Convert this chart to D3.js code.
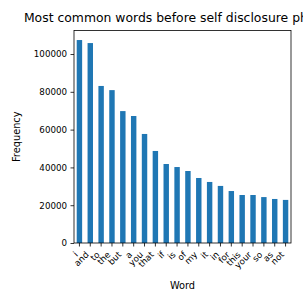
<!DOCTYPE html>
<html>
<head>
<meta charset="utf-8">
<script src="https://cdn.jsdelivr.net/npm/d3@7"></script>
<style>
  body { margin: 0; background: #fff; }
  svg { display: block; font-family: "DejaVu Sans", sans-serif; }
</style>
</head>
<body>
<div id="chart"></div>
<script>
const words = ['i', 'and', 'to', 'the', 'but', 'a', 'you', 'that', 'if', 'is',
  'of', 'my', 'it', 'in', 'for', 'this', 'your', 'so', 'as', 'not'];
const counts = [107400, 105800, 83100, 80900, 69800, 67200, 57700, 48700, 41800, 40200,
  38100, 34400, 32300, 30200, 27500, 25400, 25400, 24300, 23300, 22800];
const yTicks = [0, 20000, 40000, 60000, 80000, 100000];

const width = 303, height = 303;
const margin = { left: 74, right: 12, top: 30.5, bottom: 60 };
const plotW = width - margin.left - margin.right;
const plotH = height - margin.top - margin.bottom;

const svg = d3.select('#chart').append('svg')
  .attr('width', width).attr('height', height);

const g = svg.append('g')
  .attr('transform', 'translate(' + margin.left + ',' + margin.top + ')');

const x = d3.scaleBand().domain(words).range([0, plotW])
  .paddingInner(0.5).paddingOuter(0.25);
const y = d3.scaleLinear().domain([0, d3.max(counts) * 1.047]).range([plotH, 0]);

g.selectAll('rect.bar')
  .data(words)
  .enter()
  .append('rect')
  .attr('class', 'bar')
  .attr('x', d => x(d))
  .attr('width', x.bandwidth())
  .attr('y', (d, i) => y(counts[i]))
  .attr('height', (d, i) => plotH - y(counts[i]))
  .attr('fill', '#1f77b4');

// y axis
const yAxis = g.append('g')
  .call(d3.axisLeft(y).tickValues(yTicks).tickSize(3.5).tickPadding(3.5).tickFormat(d3.format('d')));
yAxis.select('.domain').remove();
yAxis.selectAll('text').attr('font-size', '8.7px').attr('fill', '#000')
  .attr('font-family', '"DejaVu Sans", sans-serif');
yAxis.selectAll('line').attr('stroke', '#000').attr('stroke-width', 0.8);

// x axis ticks
const xAxis = g.append('g')
  .attr('transform', 'translate(0,' + plotH + ')')
  .call(d3.axisBottom(x).tickSize(3.5).tickFormat(''));
xAxis.select('.domain').remove();
xAxis.selectAll('line').attr('stroke', '#000').attr('stroke-width', 0.8);

// rotated x tick labels, matplotlib rotation=45, ha='right': bbox top-right at the tick
const labels = g.append('g').attr('class', 'xlabels');
words.forEach(w => {
  const tx = x(w) + x.bandwidth() / 2;
  const t = labels.append('text')
    .attr('font-size', '8.7px')
    .attr('text-anchor', 'middle')
    .attr('dominant-baseline', 'central')
    .text(w);
  const tw = t.node().getComputedTextLength();
  const half = (tw + 8.7) / (2 * Math.SQRT2);
  const cx = tx - half;
  const cy = plotH + 7 + half;
  t.attr('transform', 'translate(' + cx + ',' + cy + ') rotate(-45)');
});

// frame
g.append('rect')
  .attr('width', plotW).attr('height', plotH)
  .attr('fill', 'none').attr('stroke', '#000').attr('stroke-width', 0.8);

// axis labels and title
svg.append('text')
  .attr('x', margin.left + plotW / 2).attr('y', 289)
  .attr('text-anchor', 'middle').attr('font-size', '9.8px')
  .text('Word');

svg.append('text')
  .attr('transform', 'translate(20,' + (margin.top + plotH / 2) + ') rotate(-90)')
  .attr('text-anchor', 'middle').attr('font-size', '9.8px')
  .text('Frequency');

svg.append('text')
  .attr('x', margin.left + plotW / 2).attr('y', 22)
  .attr('text-anchor', 'middle').attr('font-size', '12.4px')
  .text('Most common words before self disclosure phrases');
</script>
</body>
</html>
